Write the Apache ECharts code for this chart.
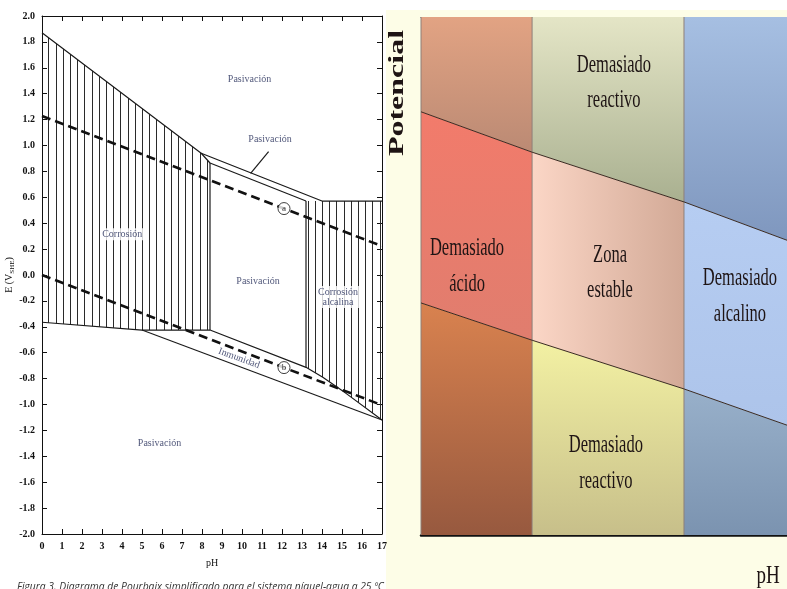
<!DOCTYPE html>
<html>
<head>
<meta charset="utf-8">
<script src="https://cdn.jsdelivr.net/npm/echarts@6/dist/echarts.min.js"></script>
<style>
  html, body { margin: 0; padding: 0; background: #ffffff; }
  #main { width: 787px; height: 589px; }
</style>
</head>
<body>
<div id="main"></div>
<script>
// --- left chart: simplified Pourbaix diagram (nickel-water) ---
var corrosionAcid = [[0, 1.87], [7.96, 0.94], [8.4, 0.865], [8.4, -0.425], [5, -0.425], [0, -0.365]];
var corrosionAlk = [[13.2, 0.571], [17, 0.571], [17, -1.12], [15.2, -0.914], [14.04, -0.79], [13.2, -0.713]];
var boundaryLines = [
    [[0, 1.87], [7.96, 0.94], [8.4, 0.865]],
    [[7.96, 0.94], [14.0, 0.571], [17, 0.571]],
    [[8.4, 0.865], [13.2, 0.571]],
    [[8.4, 0.865], [8.4, -0.425]],
    [[13.2, 0.571], [13.2, -0.713]],
    [[0, -0.365], [5, -0.425], [8.4, -0.425]],
    [[8.4, -0.425], [13.2, -0.713], [14.04, -0.79], [15.2, -0.914], [17, -1.12]],
    [[5, -0.425], [17, -1.12]],
    [[11.33, 0.952], [10.43, 0.785]]
];
var waterLineA = [[0, 1.228], [17, 0.223]];
var waterLineB = [[0, 0], [17, -1.005]];
var markerNames = ['a', 'b'];
var markerPos = [[12.1, 0.513], [12.1, -0.715]];
var leftLabels = ['Pasivación', 'Pasivación', 'Corrosión', 'Pasivación', 'Corrosión\nalcalina', 'Pasivación', 'Inmunidad'];
var leftLabelPos = [[10.375, 1.513], [11.4, 1.048], [4.01, 0.314], [10.8, -0.046], [14.8, -0.17], [5.875, -1.30], [9.85, -0.643]];

// --- right chart: schematic zones ---
var rightBounds = [0, 4.25, 10.06, 14];
var upperLine = [8.17, 7.39, 6.43, 5.69];
var lowerLine = [4.48, 3.76, 2.82, 2.12];
var zoneLabels = ['Demasiado\nreactivo', 'Demasiado\nácido', 'Zona\nestable', 'Demasiado\nalcalino', 'Demasiado\nreactivo'];
var zoneLabelPos = [[7.38, 8.73], [1.76, 5.19], [7.23, 5.06], [12.2, 4.61], [7.07, 1.39]];

// colours per column: [top, middle, bottom], each [from, to]
var zoneColors = [
    [['#e2a383', '#bb8a74'], ['#f27b6b', '#e07d6e'], ['#d9824f', '#97593f']],
    [['#e4e5c6', '#a9b090'], ['#fbd6c6', '#d2a996'], ['#f3f1a3', '#c7bf8a']],
    [['#a6bfe2', '#7f97be'], ['#b6cdf2', '#adc4ea'], ['#98b0ca', '#7b93b0']]
];

var serif = '"Liberation Serif", "DejaVu Serif", serif';

function hatchCanvas() {
    var c = document.createElement('canvas');
    c.width = 36; c.height = 8;
    var ctx = c.getContext('2d');
    ctx.strokeStyle = '#2a2a2a';
    ctx.lineWidth = 1;
    [5.5, 12.5, 20.5, 27.5, 34.5].forEach(function (x) {
        ctx.beginPath(); ctx.moveTo(x, 0); ctx.lineTo(x, 8); ctx.stroke();
    });
    return c;
}
var hatch = hatchCanvas();

// build zone polygons
var zones = [];
for (var i = 0; i < 3; i++) {
    var a = rightBounds[i], b = rightBounds[i + 1];
    zones.push({ pts: [[a, 10], [b, 10], [b, upperLine[i + 1]], [a, upperLine[i]]], col: zoneColors[i][0], horiz: false });
    zones.push({ pts: [[a, upperLine[i]], [b, upperLine[i + 1]], [b, lowerLine[i + 1]], [a, lowerLine[i]]], col: zoneColors[i][1], horiz: i === 1 });
    zones.push({ pts: [[a, lowerLine[i]], [b, lowerLine[i + 1]], [b, 0], [a, 0]], col: zoneColors[i][2], horiz: false });
}

var myChart = echarts.init(document.getElementById('main'));

var series = [];

// hatched corrosion regions
series.push({
    type: 'custom', xAxisIndex: 0, yAxisIndex: 0, silent: true, z: 1,
    data: [0, 1],
    renderItem: function (params, api) {
        var poly = [corrosionAcid, corrosionAlk][params.dataIndex];
        return {
            type: 'polygon',
            shape: { points: poly.map(function (p) { return api.coord(p); }) },
            style: { fill: { image: hatch, repeat: 'repeat' }, stroke: null }
        };
    }
});

boundaryLines.forEach(function (pts) {
    series.push({
        type: 'line', xAxisIndex: 0, yAxisIndex: 0, data: pts, symbol: 'none', silent: true, z: 3,
        lineStyle: { color: '#1a1a1a', width: 1.2 }
    });
});

[waterLineA, waterLineB].forEach(function (pts) {
    series.push({
        type: 'line', xAxisIndex: 0, yAxisIndex: 0, data: pts, symbol: 'none', silent: true, z: 4,
        lineStyle: { color: '#111', width: 2.6, type: [9, 5] }
    });
});

series.push({
    type: 'scatter', xAxisIndex: 0, yAxisIndex: 0, silent: true, z: 6,
    symbol: 'circle', symbolSize: 12,
    itemStyle: { color: '#fff', borderColor: '#111', borderWidth: 1 },
    label: { show: true, position: 'inside', formatter: '{b}', fontFamily: serif, fontSize: 9, color: '#111' },
    data: markerNames.map(function (n, k) { return { name: n, value: markerPos[k] }; })
});

series.push({
    type: 'scatter', xAxisIndex: 0, yAxisIndex: 0, silent: true, z: 7, symbolSize: 0,
    label: {
        show: true, position: 'inside', formatter: '{b}', fontFamily: serif, fontSize: 10,
        lineHeight: 10, color: '#1d2552', backgroundColor: '#fff', padding: [1, 1]
    },
    data: leftLabels.map(function (n, k) {
        var item = { name: n, value: leftLabelPos[k] };
        if (n === 'Inmunidad') item.label = { rotate: -20, backgroundColor: 'transparent' };
        return item;
    })
});

// right zones
series.push({
    type: 'custom', xAxisIndex: 2, yAxisIndex: 2, silent: true, z: 1,
    data: zones.map(function (z, k) { return k; }),
    renderItem: function (params, api) {
        var z = zones[params.dataIndex];
        return {
            type: 'polygon',
            shape: { points: z.pts.map(function (p) { return api.coord(p); }) },
            style: {
                fill: {
                    type: 'linear', x: 0, y: 0, x2: z.horiz ? 1 : 0, y2: z.horiz ? 0 : 1,
                    colorStops: [{ offset: 0, color: z.col[0] }, { offset: 1, color: z.col[1] }]
                }
            }
        };
    }
});

rightBounds.slice(0, 3).forEach(function (x) {
    series.push({
        type: 'line', xAxisIndex: 2, yAxisIndex: 2, data: [[x, 0], [x, 10]], symbol: 'none', silent: true, z: 2,
        lineStyle: { color: '#8d7f78', width: 1 }
    });
});

series.push({
    type: 'line', xAxisIndex: 2, yAxisIndex: 2, data: rightBounds.map(function (x, k) { return [x, upperLine[k]]; }),
    symbol: 'none', silent: true, z: 3, lineStyle: { color: '#3a2a22', width: 1 }
});
series.push({
    type: 'line', xAxisIndex: 2, yAxisIndex: 2, data: rightBounds.map(function (x, k) { return [x, lowerLine[k]]; }),
    symbol: 'none', silent: true, z: 3, lineStyle: { color: '#3a2a22', width: 1 }
});

// zone captions: the source picture is stretched vertically, so the text is too
series.push({
    type: 'custom', xAxisIndex: 2, yAxisIndex: 2, silent: true, z: 5,
    data: zoneLabels.map(function (n, k) { return k; }),
    renderItem: function (params, api) {
        var p = api.coord(zoneLabelPos[params.dataIndex]);
        return {
            type: 'text', x: p[0], y: p[1], scaleY: 1.55,
            style: {
                text: zoneLabels[params.dataIndex], font: '16.5px ' + serif, lineHeight: 23,
                fill: '#1e1414', textAlign: 'center', textVerticalAlign: 'middle'
            }
        };
    }
});

var tickLabel = { fontFamily: serif, fontSize: 10, fontWeight: 'bold', color: '#111' };
var blackLine = { onZero: false, lineStyle: { color: '#111', width: 1 } };

var option = {
    animation: false,
    backgroundColor: '#ffffff',
    graphic: [
        { type: 'rect', z: -1, shape: { x: 386, y: 10, width: 401, height: 579 }, style: { fill: '#fdfde7' } },
        {
            type: 'text', x: 398, y: 93, rotation: Math.PI / 2, scaleX: 1.6, z: 10,
            style: { text: 'Potencial', font: 'bold 20px ' + serif, fill: '#1e1414', textAlign: 'center', textVerticalAlign: 'middle' }
        },
        {
            type: 'text', x: 768, y: 577, scaleY: 1.3, z: 10,
            style: { text: 'pH', font: '19px ' + serif, fill: '#1e1414', textAlign: 'center', textVerticalAlign: 'middle' }
        },
        {
            type: 'text', x: 17, y: 582, z: 10,
            style: { text: 'Figura 3. Diagrama de Pourbaix simplificado para el sistema níquel-agua a 25 ºC', font: 'italic 10.3px "Open Sans", sans-serif', fill: '#333', textVerticalAlign: 'top' }
        }
    ],
    grid: [
        { left: 42, top: 16, right: 405, bottom: 55 },
        { left: 421, top: 17, right: 0, bottom: 54 }
    ],
    xAxis: [
        {
            gridIndex: 0, type: 'value', min: 0, max: 17, interval: 1,
            name: 'pH', nameLocation: 'middle', nameGap: 24,
            nameTextStyle: { fontFamily: serif, fontSize: 10, color: '#111' },
            axisLine: blackLine, axisTick: { inside: true, length: 5, lineStyle: { color: '#111' } },
            axisLabel: Object.assign({ margin: 7 }, tickLabel), splitLine: { show: false }
        },
        {
            gridIndex: 0, type: 'value', position: 'top', min: 0, max: 17, interval: 1,
            axisLine: blackLine, axisTick: { inside: true, length: 5, lineStyle: { color: '#111' } },
            axisLabel: { show: false }, splitLine: { show: false }
        },
        {
            gridIndex: 1, type: 'value', min: 0, max: 14,
            axisLine: { onZero: false, lineStyle: { color: '#111', width: 2.5 } }, axisTick: { show: false },
            axisLabel: { show: false }, splitLine: { show: false }
        },
        {
            gridIndex: 1, type: 'value', position: 'top', min: 0, max: 14,
            axisLine: { onZero: false, lineStyle: { color: '#3a3a3a', width: 1 } }, axisTick: { show: false },
            axisLabel: { show: false }, splitLine: { show: false }
        }
    ],
    yAxis: [
        {
            gridIndex: 0, type: 'value', min: -2, max: 2, interval: 0.2,
            name: 'E (V{s|SHE})', nameLocation: 'middle', nameGap: 25, nameRotate: 90,
            nameTextStyle: { fontFamily: serif, fontSize: 10, color: '#111', rich: { s: { fontFamily: serif, fontSize: 7, padding: [5, 0, 0, 0] } } },
            axisLine: blackLine, axisTick: { inside: true, length: 5, lineStyle: { color: '#111' } },
            axisLabel: Object.assign({ margin: 7, formatter: function (v) { return v.toFixed(1); } }, tickLabel),
            splitLine: { show: false }
        },
        {
            gridIndex: 0, type: 'value', position: 'right', min: -2, max: 2, interval: 0.2,
            axisLine: blackLine, axisTick: { inside: true, length: 5, lineStyle: { color: '#111' } },
            axisLabel: { show: false }, splitLine: { show: false }
        },
        {
            gridIndex: 1, type: 'value', min: 0, max: 10,
            axisLine: { show: false }, axisTick: { show: false }, axisLabel: { show: false }, splitLine: { show: false }
        }
    ],
    series: series
};

myChart.setOption(option);
</script>
</body>
</html>
